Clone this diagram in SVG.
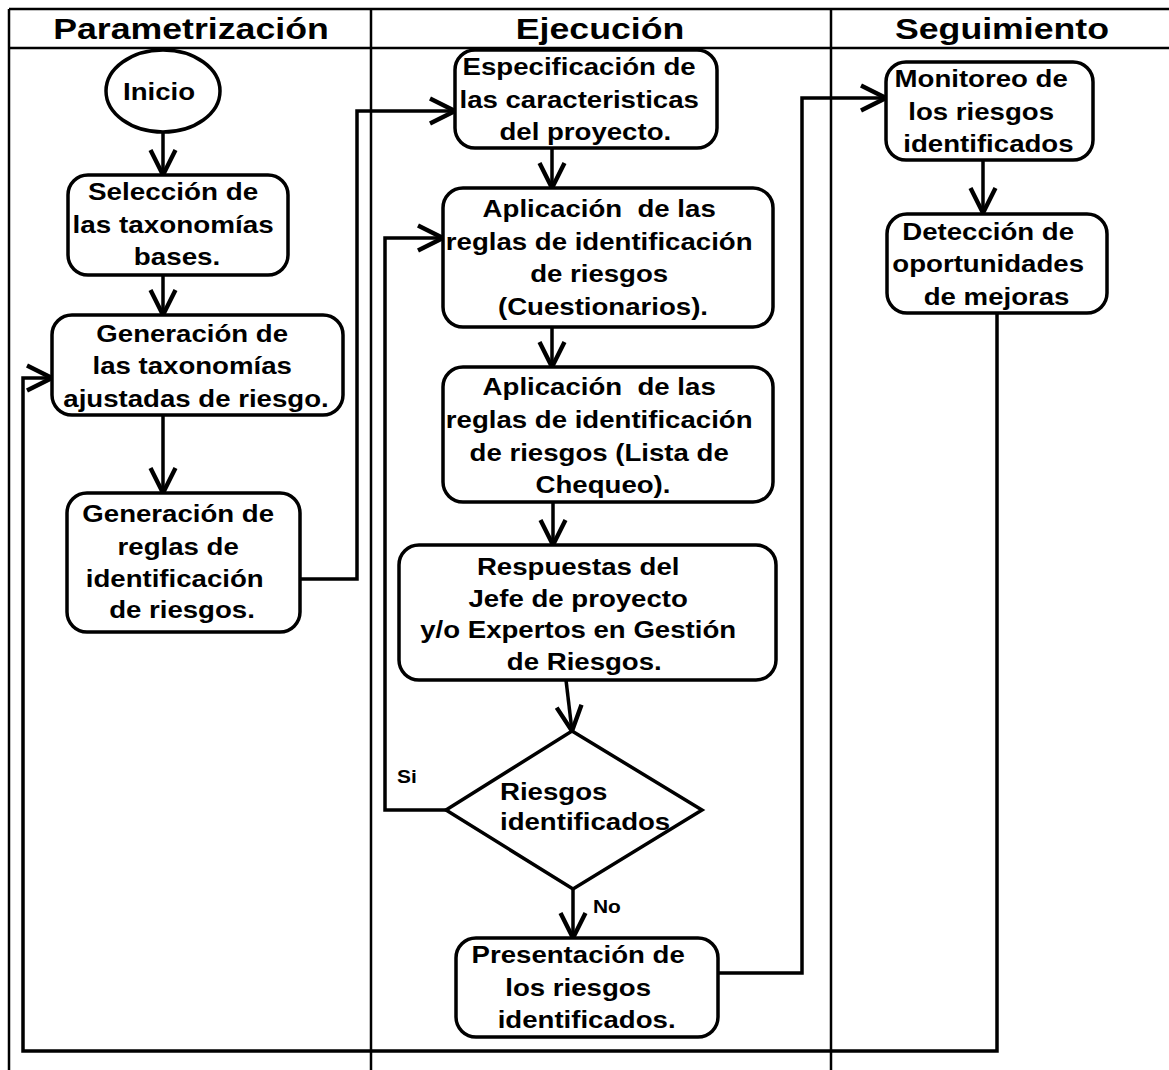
<svg xmlns="http://www.w3.org/2000/svg" width="1169" height="1070" viewBox="0 0 1169 1070">
  <style>
    .lane { stroke: #000; stroke-width: 2.5; fill: none; }
    .box { fill: #fff; stroke: #000; stroke-width: 3.5; }
    .edge { fill: none; stroke: #000; stroke-width: 3.5; stroke-linejoin: miter; }
    .t { font-family: "Liberation Sans", Arial, sans-serif; font-weight: bold; font-size: 24px; fill: #000; }
    .h { font-family: "Liberation Sans", Arial, sans-serif; font-weight: bold; font-size: 29px; fill: #000; }
    .lbl { font-family: "Liberation Sans", Arial, sans-serif; font-weight: bold; font-size: 19px; fill: #000; }
  </style>
  <defs>
    <marker id="arrow" markerUnits="userSpaceOnUse" markerWidth="30" markerHeight="30" viewBox="-22 -12 24 24" refX="0" refY="0" orient="auto">
      <path d="M-20,-10 L0,0 L-20,10" fill="none" stroke="#000" stroke-width="3.5"/>
    </marker>
  </defs>

  <rect x="0" y="0" width="1169" height="1070" fill="#fff"/>

  <!-- swimlanes -->
  <g id="lanes">
    <line class="lane" x1="9" y1="9" x2="1169" y2="9"/>
    <line class="lane" x1="9" y1="48" x2="1169" y2="48"/>
    <line class="lane" x1="9" y1="9" x2="9" y2="1070"/>
    <line class="lane" x1="371" y1="9" x2="371" y2="1070"/>
    <line class="lane" x1="831" y1="9" x2="831" y2="1070"/>
    <text class="h" text-anchor="middle" transform="translate(191,0) scale(1.23,1)"><tspan x="0" y="39">Parametrización</tspan></text>
    <text class="h" text-anchor="middle" transform="translate(600,0) scale(1.23,1)"><tspan x="0" y="39">Ejecución</tspan></text>
    <text class="h" text-anchor="middle" transform="translate(1002,0) scale(1.23,1)"><tspan x="0" y="39">Seguimiento</tspan></text>
  </g>

  <!-- connectors -->
  <g id="connectors">
    <line class="edge" x1="163" y1="132" x2="163" y2="175" marker-end="url(#arrow)"/>
    <line class="edge" x1="163" y1="275" x2="163" y2="315" marker-end="url(#arrow)"/>
    <line class="edge" x1="163" y1="415" x2="163" y2="493" marker-end="url(#arrow)"/>
    <polyline class="edge" points="300,579 357,579 357,111 455,111" marker-end="url(#arrow)"/>
    <line class="edge" x1="552" y1="148" x2="552" y2="188" marker-end="url(#arrow)"/>
    <line class="edge" x1="552" y1="327" x2="552" y2="367" marker-end="url(#arrow)"/>
    <line class="edge" x1="553" y1="502" x2="553" y2="545" marker-end="url(#arrow)"/>
    <line class="edge" x1="566" y1="680" x2="572" y2="731" marker-end="url(#arrow)"/>
    <polyline class="edge" points="446,810 385,810 385,238 443,238" marker-end="url(#arrow)"/>
    <line class="edge" x1="573" y1="889" x2="573" y2="938" marker-end="url(#arrow)"/>
    <polyline class="edge" points="718,973 802,973 802,98 886,98" marker-end="url(#arrow)"/>
    <line class="edge" x1="983" y1="160" x2="983" y2="213" marker-end="url(#arrow)"/>
    <polyline class="edge" points="997,313 997,1051 23,1051 23,378 52,378" marker-end="url(#arrow)"/>
    <text class="lbl" text-anchor="start" transform="translate(397,0) scale(1.1,1)"><tspan x="0" y="783">Si</tspan></text>
    <text class="lbl" text-anchor="start" transform="translate(593,0) scale(1.1,1)"><tspan x="0" y="913">No</tspan></text>
  </g>

  <!-- Parametrización -->
  <g id="inicio">
    <ellipse class="box" cx="163" cy="91" rx="57" ry="41"/>
    <text class="t" text-anchor="middle" transform="translate(159,0) scale(1.15,1)"><tspan x="0" y="100">Inicio</tspan></text>
  </g>
  <g id="seleccion">
    <rect class="box" x="68" y="175" width="220" height="100" rx="20"/>
    <text class="t" text-anchor="middle" transform="translate(177,0) scale(1.16,1)">
      <tspan x="0" y="200">Selección de</tspan>
      <tspan x="0" y="233">las taxonomías</tspan>
      <tspan x="0" y="265">bases.</tspan>
    </text>
  </g>
  <g id="generacion-taxonomias">
    <rect class="box" x="52" y="315" width="291" height="100" rx="20"/>
    <text class="t" text-anchor="middle" transform="translate(196,0) scale(1.15,1)">
      <tspan x="0" y="342">Generación de</tspan>
      <tspan x="0" y="374">las taxonomías</tspan>
      <tspan x="0" y="407">ajustadas de riesgo.</tspan>
    </text>
  </g>
  <g id="generacion-reglas">
    <rect class="box" x="67" y="493" width="233" height="139" rx="20"/>
    <text class="t" text-anchor="middle" transform="translate(182,0) scale(1.15,1)">
      <tspan x="0" y="522">Generación de</tspan>
      <tspan x="0" y="555">reglas de</tspan>
      <tspan x="-3" y="587">identificación</tspan>
      <tspan x="0" y="618">de riesgos.</tspan>
    </text>
  </g>

  <!-- Ejecución -->
  <g id="especificacion">
    <rect class="box" x="455" y="50" width="262" height="98" rx="20"/>
    <text class="t" text-anchor="middle" transform="translate(583,0) scale(1.15,1)">
      <tspan x="0" y="75">Especificación de</tspan>
      <tspan x="0" y="108">las caracteristicas</tspan>
      <tspan x="2" y="140">del proyecto.</tspan>
    </text>
  </g>
  <g id="aplicacion-cuestionarios">
    <rect class="box" x="443" y="188" width="330" height="139" rx="20"/>
    <text class="t" text-anchor="middle" transform="translate(603,0) scale(1.15,1)">
      <tspan x="0" y="217">Aplicación&#160; de las</tspan>
      <tspan x="0" y="250">reglas de identificación</tspan>
      <tspan x="0" y="282">de riesgos</tspan>
      <tspan x="0" y="315">(Cuestionarios).</tspan>
    </text>
  </g>
  <g id="aplicacion-lista">
    <rect class="box" x="443" y="367" width="330" height="135" rx="20"/>
    <text class="t" text-anchor="middle" transform="translate(603,0) scale(1.15,1)">
      <tspan x="0" y="395">Aplicación&#160; de las</tspan>
      <tspan x="0" y="428">reglas de identificación</tspan>
      <tspan x="0" y="461">de riesgos (Lista de</tspan>
      <tspan x="0" y="493">Chequeo).</tspan>
    </text>
  </g>
  <g id="respuestas">
    <rect class="box" x="399" y="545" width="377" height="135" rx="20"/>
    <text class="t" text-anchor="middle" transform="translate(582,0) scale(1.15,1)">
      <tspan x="0" y="575">Respuestas del</tspan>
      <tspan x="0" y="607">Jefe de proyecto</tspan>
      <tspan x="0" y="638">y/o Expertos en Gestión</tspan>
      <tspan x="2" y="670">de Riesgos.</tspan>
    </text>
  </g>
  <g id="decision">
    <polygon class="box" points="572,731 702,810 573,889 446,810"/>
    <text class="t" text-anchor="start" transform="translate(500,0) scale(1.15,1)">
      <tspan x="0" y="800">Riesgos</tspan>
      <tspan x="0" y="830">identificados</tspan>
    </text>
  </g>
  <g id="presentacion">
    <rect class="box" x="456" y="938" width="262" height="99" rx="20"/>
    <text class="t" text-anchor="middle" transform="translate(582,0) scale(1.15,1)">
      <tspan x="0" y="963">Presentación de</tspan>
      <tspan x="0" y="996">los riesgos</tspan>
      <tspan x="4" y="1028">identificados.</tspan>
    </text>
  </g>

  <!-- Seguimiento -->
  <g id="monitoreo">
    <rect class="box" x="886" y="62" width="207" height="98" rx="20"/>
    <text class="t" text-anchor="middle" transform="translate(985,0) scale(1.15,1)">
      <tspan x="0" y="87">Monitoreo de</tspan>
      <tspan x="0" y="120">los riesgos</tspan>
      <tspan x="3" y="152">identificados</tspan>
    </text>
  </g>
  <g id="deteccion">
    <rect class="box" x="887" y="214" width="220" height="99" rx="20"/>
    <text class="t" text-anchor="middle" transform="translate(992,0) scale(1.15,1)">
      <tspan x="0" y="240">Detección de</tspan>
      <tspan x="0" y="272">oportunidades</tspan>
      <tspan x="4" y="305">de mejoras</tspan>
    </text>
  </g>
</svg>
